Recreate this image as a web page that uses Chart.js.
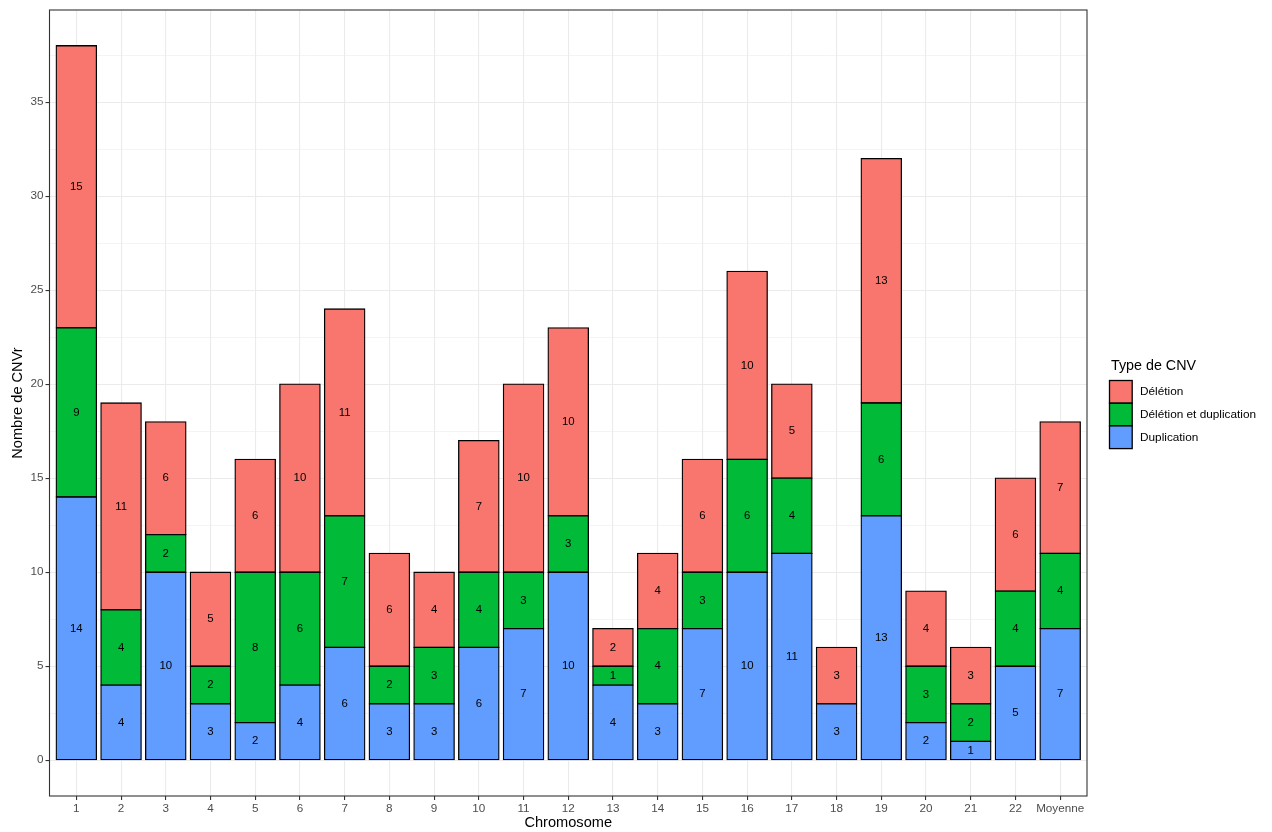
<!DOCTYPE html>
<html>
<head>
<meta charset="utf-8">
<script src="https://cdn.jsdelivr.net/npm/chart.js@4/dist/chart.umd.min.js"></script>
<style>
  html, body { margin: 0; padding: 0; background: #fff; }
  canvas { display: block; }
</style>
</head>
<body>
<canvas id="cnvChart" width="1272" height="832"></canvas>
<script>
  const chromosomes = ["1", "2", "3", "4", "5", "6", "7", "8", "9", "10", "11", "12",
    "13", "14", "15", "16", "17", "18", "19", "20", "21", "22", "Moyenne"];
  const duplication = [14, 4, 10, 3, 2, 4, 6, 3, 3, 6, 7, 10, 4, 3, 7, 10, 11, 3, 13, 2, 1, 5, 7];
  const deletionDuplication = [9, 4, 2, 2, 8, 6, 7, 2, 3, 4, 3, 3, 1, 4, 3, 6, 4, 0, 6, 3, 2, 4, 4];
  const deletion = [15, 11, 6, 5, 6, 10, 11, 6, 4, 7, 10, 10, 2, 4, 6, 10, 5, 3, 13, 4, 3, 6, 7];
  const yTicks = [0, 2.5, 5, 7.5, 10, 12.5, 15, 17.5, 20, 22.5, 25, 27.5, 30, 32.5, 35, 37.5];

  const FONT = "'Liberation Sans', Arial, Helvetica, sans-serif";
  const GRID = "#EBEBEB";
  const DARK = "#333333";
  const isMajor = (v) => v % 5 === 0;

  const toPoints = (values) => values.map((v, i) => ({ x: i, y: v }));

  // number in the middle of every non-empty segment
  const segmentLabels = {
    id: "segmentLabels",
    afterDatasetsDraw(chart) {
      const ctx = chart.ctx;
      ctx.save();
      ctx.font = `11.4px ${FONT}`;
      ctx.fillStyle = "#000";
      ctx.textAlign = "center";
      ctx.textBaseline = "middle";
      chart.data.datasets.forEach((ds, di) => {
        chart.getDatasetMeta(di).data.forEach((bar, i) => {
          const v = ds.data[i].y;
          if (!v) return;
          const { x, y, base } = bar.getProps(["x", "y", "base"], true);
          ctx.fillText(String(v), x, (y + base) / 2);
        });
      });
      ctx.restore();
    },
  };

  // full panel border like theme_bw
  const panelFrame = {
    id: "panelFrame",
    afterDraw(chart) {
      const { left, top, right, bottom } = chart.chartArea;
      const ctx = chart.ctx;
      ctx.save();
      ctx.strokeStyle = DARK;
      ctx.lineWidth = 1.1;
      ctx.strokeRect(left, top, right - left, bottom - top);
      ctx.restore();
    },
  };

  const cnvLegend = {
    id: "cnvLegend",
    afterDraw(chart) {
      const ctx = chart.ctx;
      const x0 = 1109.5, y0 = 380.5, key = 22.7;
      ctx.save();
      ctx.fillStyle = "#000";
      ctx.font = `14.3px ${FONT}`;
      ctx.textBaseline = "alphabetic";
      ctx.fillText("Type de CNV", 1111, 369.5);
      ctx.font = `11.8px ${FONT}`;
      ctx.textBaseline = "middle";
      const items = chart.data.datasets.slice().reverse();
      items.forEach((ds, i) => {
        const y = y0 + i * key;
        ctx.fillStyle = ds.backgroundColor;
        ctx.fillRect(x0, y, key, key);
        ctx.strokeStyle = "#000";
        ctx.lineWidth = 1.3;
        ctx.strokeRect(x0, y, key, key);
        ctx.fillStyle = "#000";
        ctx.fillText(ds.label, 1140, y + key / 2);
      });
      ctx.restore();
    },
  };

  const barStyle = {
    borderColor: "#000",
    borderWidth: 1.3,
    borderSkipped: false,
    inflateAmount: 0.65,
    barPercentage: 0.9,
    categoryPercentage: 1,
  };

  new Chart(document.getElementById("cnvChart"), {
    type: "bar",
    data: {
      datasets: [
        { label: "Duplication", data: toPoints(duplication), backgroundColor: "#619CFF", ...barStyle },
        { label: "Délétion et duplication", data: toPoints(deletionDuplication), backgroundColor: "#00BA38", ...barStyle },
        { label: "Délétion", data: toPoints(deletion), backgroundColor: "#F8766D", ...barStyle },
      ],
    },
    options: {
      responsive: false,
      animation: false,
      devicePixelRatio: 1,
      layout: { padding: { left: 0, top: 10, right: 185, bottom: 0 } },
      plugins: { legend: { display: false }, tooltip: { enabled: false } },
      scales: {
        x: {
          type: "linear",
          stacked: true,
          offset: false,
          min: -0.6,
          max: chromosomes.length - 1 + 0.6,
          afterBuildTicks: (scale) => { scale.ticks = chromosomes.map((_, i) => ({ value: i })); },
          afterFit: (scale) => { scale.height = 36; },
          grid: { offset: false, color: GRID, lineWidth: 1.1, tickColor: DARK, tickLength: 4, tickWidth: 1.1 },
          border: { display: false },
          ticks: {
            color: "#4D4D4D",
            font: { family: FONT, size: 11.7 },
            padding: 2,
            maxRotation: 0,
            autoSkip: false,
            callback: (v) => chromosomes[v],
          },
          title: {
            display: true,
            text: "Chromosome",
            color: "#000",
            font: { family: FONT, size: 14.6 },
            padding: { top: 0, bottom: 0 },
          },
        },
        y: {
          stacked: true,
          min: -1.9,
          max: 39.9,
          afterBuildTicks: (scale) => { scale.ticks = yTicks.map((v) => ({ value: v })); },
          afterFit: (scale) => { scale.width = 49.5; },
          grid: {
            color: GRID,
            lineWidth: (c) => (isMajor(c.tick.value) ? 1.1 : 0.55),
            tickColor: (c) => (isMajor(c.tick.value) ? DARK : "rgba(0,0,0,0)"),
            tickLength: 4,
            tickWidth: 1.1,
          },
          border: { display: false },
          ticks: {
            color: "#4D4D4D",
            font: { family: FONT, size: 11.7 },
            padding: 2,
            autoSkip: false,
            callback: (v) => (isMajor(v) ? String(v) : ""),
          },
          title: {
            display: true,
            text: "Nombre de CNVr",
            color: "#000",
            font: { family: FONT, size: 14.6 },
            padding: { top: 9, bottom: 0 },
          },
        },
      },
    },
    plugins: [segmentLabels, panelFrame, cnvLegend],
  });
</script>
</body>
</html>
